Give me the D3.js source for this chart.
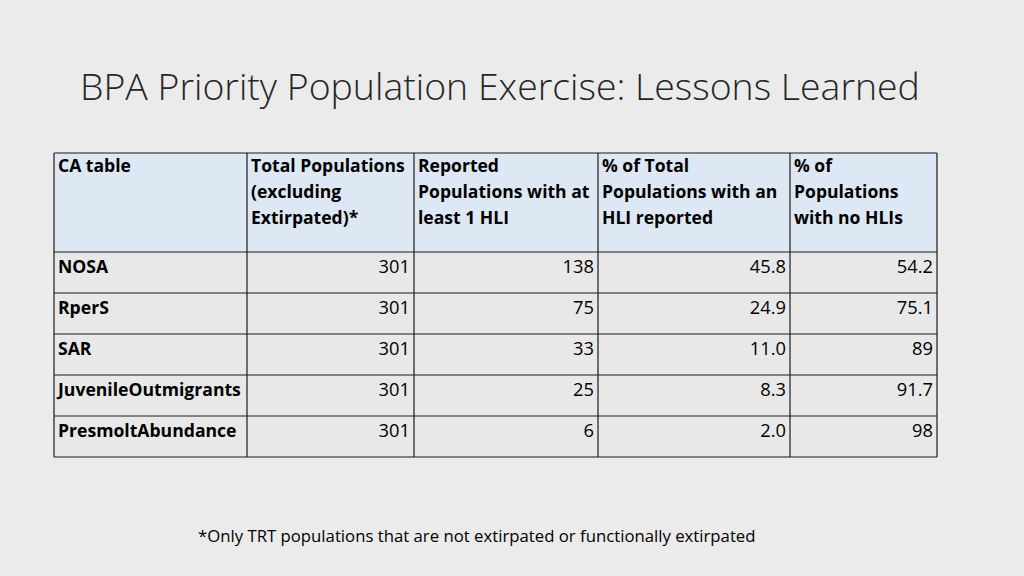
<!DOCTYPE html>
<html><head><meta charset="utf-8">
<script src="https://cdn.jsdelivr.net/npm/d3@7"></script>
<style>
html,body{margin:0;padding:0;background:#ebebeb;}
svg{display:block;font-family:"Open Sans", Lato, sans-serif;}
</style></head>
<body><svg id="c" width="1024" height="576"></svg>
<script>
const title = "BPA Priority Population Exercise: Lessons Learned";
const footnote = "*Only TRT populations that are not extirpated or functionally extirpated";
const headers = [
  ["CA table"],
  ["Total Populations", "(excluding", "Extirpated)*"],
  ["Reported", "Populations with at", "least 1 HLI"],
  ["% of Total", "Populations with an", "HLI reported"],
  ["% of", "Populations", "with no HLIs"]
];
const categories = ["NOSA", "RperS", "SAR", "JuvenileOutmigrants", "PresmoltAbundance"];
const totalPops = [301, 301, 301, 301, 301];
const reportedPops = [138, 75, 33, 25, 6];
const pctWithHLI = [45.8, 24.9, 11.0, 8.3, 2.0];
const pctNoHLI = [54.2, 75.1, 89, 91.7, 98];

const svg = d3.select("#c");
const colEdges = [54, 247, 414, 598, 790, 937];
const headerTop = 153, headerBottom = 252, tableBottom = 457;
const y = d3.scaleBand().domain(d3.range(categories.length)).range([headerBottom, tableBottom]).padding(0);
const x0 = i => colEdges[i], x1 = i => colEdges[i+1];

function fitSize(text, weight, base, target) {
  const t = svg.append("text").style("font-weight", weight).style("font-size", base + "px").text(text);
  const w = t.node().getComputedTextLength();
  t.remove();
  return base * target / w;
}
const boldSize = fitSize("JuvenileOutmigrants", 700, 17, 183);
const hdrSize = fitSize("Populations with at", 700, 17, 171);
const regSize = fitSize(footnote, 400, 16, 558);
const headSize = (boldSize + hdrSize) / 2;
const bodySize = regSize * 17.5 / 16;

// title
const t = svg.append("text").attr("x", 80).attr("y", 100).attr("fill", "#262626")
  .style("font-weight", 300).style("font-size", "40px").text(title);
const tw = t.node().getComputedTextLength();
t.style("font-size", (40 * 840 / tw) + "px");

// backgrounds
svg.append("rect").attr("x", colEdges[0]).attr("y", headerTop)
  .attr("width", colEdges[5]-colEdges[0]).attr("height", headerBottom-headerTop)
  .attr("fill", "#dde8f4");
svg.append("rect").attr("x", colEdges[0]).attr("y", headerBottom)
  .attr("width", colEdges[5]-colEdges[0]).attr("height", tableBottom-headerBottom)
  .attr("fill", "#e8e8e8");

// header text
headers.forEach((lines, ci) => {
  const tx = svg.append("text").attr("x", x0(ci) + 4).attr("y", headerTop + 19)
    .attr("fill", "#000").style("font-weight", 700).style("font-size", headSize + "px");
  lines.forEach((l, li) => tx.append("tspan").attr("x", x0(ci) + 4).attr("dy", li === 0 ? 0 : 26).text(l));
});

const fmt1 = d3.format(".1f");
const rows = categories.map((c, i) => [c, String(totalPops[i]), String(reportedPops[i]), fmt1(pctWithHLI[i]), String(pctNoHLI[i])]);

rows.forEach((r, ri) => {
  r.forEach((v, ci) => {
    const tx = svg.append("text").attr("y", y(ri) + 21).attr("fill", "#000").text(v);
    if (ci === 0) tx.attr("x", x0(ci) + 4).style("font-weight", 700).style("font-size", boldSize + "px");
    else tx.attr("x", x1(ci) - 4).attr("text-anchor", "end").style("font-size", bodySize + "px");
  });
});

// grid lines
const g = svg.append("g").attr("stroke", "#1a1a1a").attr("stroke-width", 1.2).attr("fill", "none");
colEdges.forEach(xv => g.append("line").attr("x1", xv).attr("x2", xv).attr("y1", headerTop).attr("y2", tableBottom));
[headerTop].concat(d3.range(categories.length).map(i => y(i)), [tableBottom]).forEach(yv =>
  g.append("line").attr("x1", colEdges[0]).attr("x2", colEdges[5]).attr("y1", yv).attr("y2", yv));

svg.append("text").attr("x", 198).attr("y", 542).attr("fill", "#000").style("font-size", regSize + "px").text(footnote);
</script></body></html>
